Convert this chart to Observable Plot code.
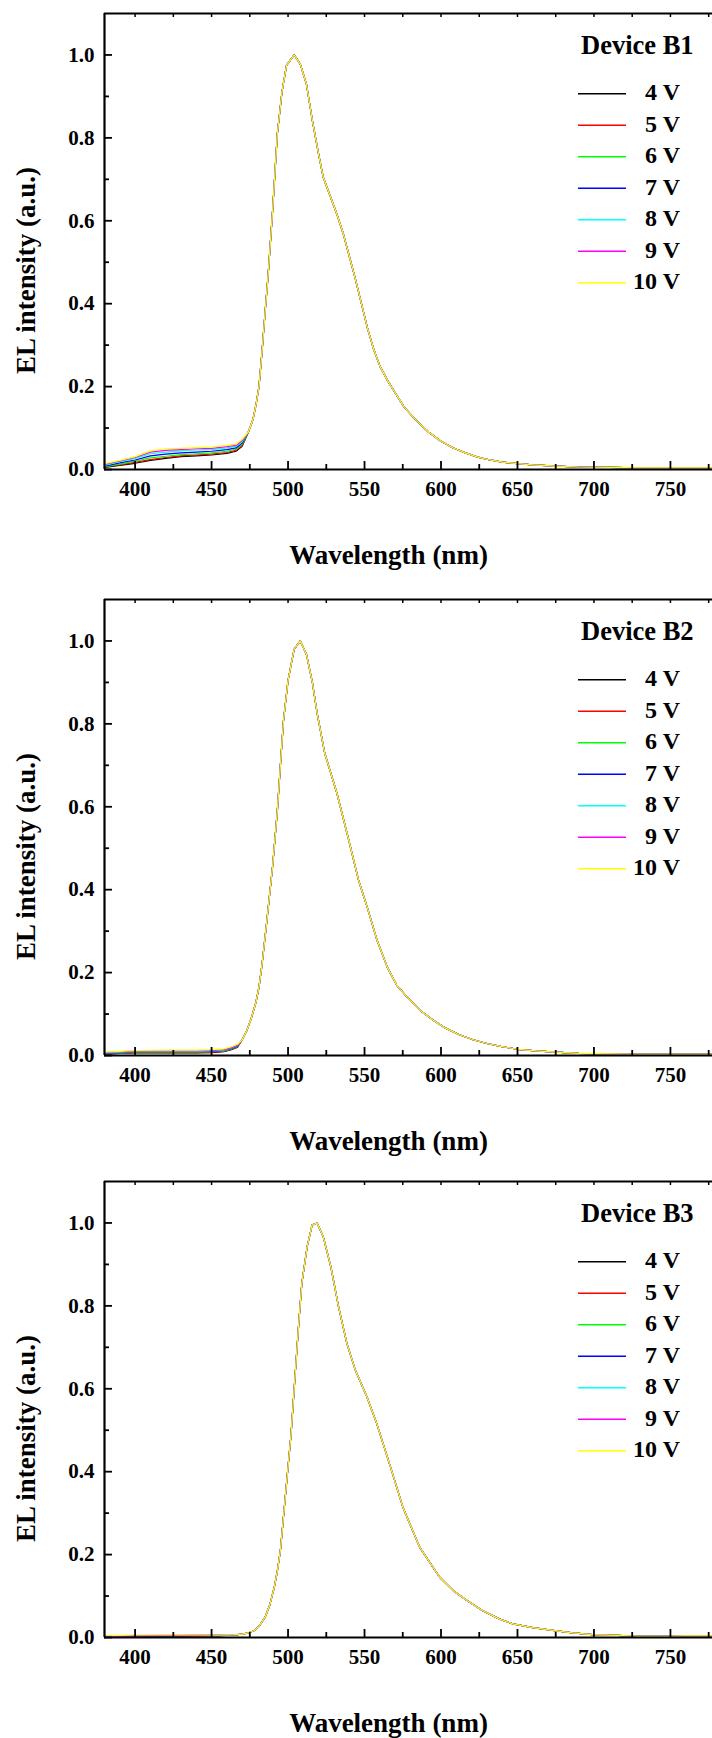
<!DOCTYPE html>
<html>
<head>
<meta charset="utf-8">
<script src="https://cdn.jsdelivr.net/npm/d3@7"></script>
<script src="https://cdn.jsdelivr.net/npm/@observablehq/plot@0.6"></script>
<style>
  html, body { margin: 0; padding: 0; background: #fff; overflow: hidden; }
  #chart svg { display: block; }
</style>
</head>
<body>
<div id="chart"></div>
<script>
// Driving voltages and their trace colours
const voltages = ["4 V", "5 V", "6 V", "7 V", "8 V", "9 V", "10 V"];
const lineColors = ["#000000", "#ff0000", "#00ff00", "#0000ff", "#00ffff", "#ff00ff", "#ffff00"];

// Axis ticks
const xTicks = [400, 450, 500, 550, 600, 650, 700, 750];
const xMinorTicks = [425, 475, 525, 575, 625, 675, 725, 775];
const xTopTicks = [400, 425, 450, 475, 500, 525, 550, 575, 600, 625, 650, 675, 700, 725, 750, 775];
const yTicks = [0.0, 0.2, 0.4, 0.6, 0.8, 1.0];
const yMinorTicks = [0.1, 0.3, 0.5, 0.7, 0.9];

const xTitle = "Wavelength (nm)";
const yTitle = "EL intensity (a.u.)";

// ---- Device B1 ----
// blue side (voltage dependent)
const b1HeadWl = [380, 390, 400, 410, 420, 430, 440, 450, 460, 466, 470];
const b1Head = [
  [0.005, 0.010, 0.015, 0.022, 0.027, 0.031, 0.033, 0.035, 0.039, 0.044, 0.056],
  [0.006, 0.011, 0.017, 0.024, 0.029, 0.033, 0.035, 0.037, 0.041, 0.046, 0.058],
  [0.007, 0.013, 0.020, 0.028, 0.032, 0.036, 0.038, 0.040, 0.044, 0.049, 0.061],
  [0.008, 0.016, 0.023, 0.033, 0.037, 0.040, 0.042, 0.044, 0.048, 0.052, 0.064],
  [0.010, 0.019, 0.027, 0.038, 0.042, 0.045, 0.047, 0.048, 0.052, 0.056, 0.067],
  [0.012, 0.021, 0.029, 0.042, 0.046, 0.048, 0.050, 0.051, 0.055, 0.058, 0.070],
  [0.014, 0.022, 0.031, 0.045, 0.050, 0.051, 0.053, 0.054, 0.058, 0.061, 0.073]
];
// main emission band (common to all voltages)
const b1MainWl = [474, 477, 479, 481, 483, 485, 487, 490, 493, 496, 499, 504, 508, 512, 516, 520, 523, 527, 532, 536, 540, 544, 548, 552, 556, 560, 565, 570, 576, 584, 592, 600, 608, 616, 624, 632, 640, 650, 660, 675, 690, 710, 730, 750, 765, 780];
const b1Main = [0.09, 0.12, 0.155, 0.2, 0.285, 0.38, 0.47, 0.63, 0.81, 0.91, 0.975, 1.0, 0.978, 0.93, 0.84, 0.76, 0.705, 0.665, 0.615, 0.57, 0.515, 0.46, 0.4, 0.34, 0.29, 0.25, 0.215, 0.185, 0.15, 0.118, 0.09, 0.068, 0.052, 0.04, 0.03, 0.023, 0.018, 0.014, 0.011, 0.008, 0.006, 0.005, 0.004, 0.004, 0.004, 0.004];

// ---- Device B2 ----
const b2HeadWl = [380, 390, 400, 420, 440, 450, 458, 463, 467];
const b2Head = [
  [0.003, 0.005, 0.006, 0.006, 0.006, 0.007, 0.009, 0.014, 0.020],
  [0.004, 0.005, 0.007, 0.007, 0.007, 0.008, 0.010, 0.015, 0.021],
  [0.004, 0.006, 0.008, 0.008, 0.008, 0.009, 0.011, 0.016, 0.022],
  [0.005, 0.007, 0.009, 0.009, 0.009, 0.010, 0.012, 0.017, 0.023],
  [0.006, 0.008, 0.010, 0.010, 0.010, 0.011, 0.013, 0.018, 0.024],
  [0.007, 0.009, 0.011, 0.011, 0.011, 0.012, 0.014, 0.019, 0.025],
  [0.008, 0.010, 0.012, 0.013, 0.013, 0.014, 0.016, 0.021, 0.027]
];
const b2MainWl = [470, 473, 476, 479, 481, 483, 486, 490, 493, 495, 497, 500, 504, 508, 512, 516, 519, 524, 532, 540, 546, 552, 558, 565, 571, 578, 586, 595, 603, 612, 621, 630, 639, 650, 662, 675, 690, 710, 730, 750, 780];
const b2Main = [0.038, 0.06, 0.09, 0.128, 0.165, 0.22, 0.32, 0.46, 0.59, 0.7, 0.807, 0.905, 0.98, 1.0, 0.968, 0.898, 0.826, 0.729, 0.632, 0.515, 0.424, 0.355, 0.28, 0.212, 0.17, 0.14, 0.11, 0.085, 0.066, 0.05, 0.038, 0.029, 0.022, 0.015, 0.011, 0.008, 0.005, 0.004, 0.003, 0.003, 0.003];

// ---- Device B3 ----
const b3HeadWl = [380, 400, 420, 440, 455, 465];
const b3Head = [
  [0.003, 0.003, 0.003, 0.004, 0.004, 0.006],
  [0.003, 0.004, 0.004, 0.004, 0.005, 0.006],
  [0.003, 0.004, 0.004, 0.005, 0.005, 0.006],
  [0.003, 0.004, 0.004, 0.005, 0.005, 0.006],
  [0.004, 0.005, 0.005, 0.005, 0.005, 0.006],
  [0.002, 0.004, 0.005, 0.005, 0.006, 0.007],
  [0.004, 0.006, 0.006, 0.006, 0.006, 0.007]
];
const b3MainWl = [470, 474, 478, 481, 485, 488, 491, 493, 495, 498, 502, 505, 507, 509, 512.5, 515.7, 519, 523, 528, 533, 538.5, 544, 551.6, 558, 567, 575, 586, 599, 608, 617, 627, 638, 647, 660, 673, 686, 699, 715, 730, 745, 760, 780];
const b3Main = [0.008, 0.011, 0.017, 0.027, 0.049, 0.078, 0.121, 0.16, 0.21, 0.331, 0.492, 0.653, 0.758, 0.854, 0.943, 0.995, 1.0, 0.967, 0.894, 0.798, 0.709, 0.645, 0.58, 0.516, 0.411, 0.315, 0.218, 0.146, 0.113, 0.089, 0.065, 0.045, 0.033, 0.024, 0.017, 0.011, 0.007, 0.005, 0.003, 0.003, 0.004, 0.004];

const serif = "'Liberation Serif', 'Times New Roman', Times, serif";

// Build long-format rows: each voltage = its own blue side + the common band
function buildRows(headWl, head, mainWl, main) {
  const rows = [];
  voltages.forEach((v, k) => {
    headWl.forEach((w, i) => rows.push({voltage: v, wavelength: w, intensity: head[k][i]}));
    mainWl.forEach((w, i) => rows.push({voltage: v, wavelength: w, intensity: main[i]}));
  });
  return rows;
}

function panel(name, rows, height, marginBottom) {
  const chart = Plot.plot({
    width: 712,
    height,
    marginTop: 13,
    marginLeft: 104,
    marginRight: 0,
    marginBottom,
    style: {fontFamily: serif, fontWeight: "bold", fontSize: "21px", color: "#000", background: "#fff", overflow: "hidden"},
    x: {domain: [380, 777.5]},
    y: {domain: [0, 1.1]},
    color: {domain: voltages, range: lineColors},
    marks: [
      Plot.line(rows, {x: "wavelength", y: "intensity", z: "voltage", stroke: "voltage", strokeWidth: 1.2, clip: true}),
      // inward tick marks
      Plot.axisX({ticks: xMinorTicks, tickSize: -5, tickFormat: () => "", strokeWidth: 1.8, label: null}),
      Plot.axisX({ticks: xTicks, tickSize: -8, tickFormat: () => "", strokeWidth: 1.8, label: null}),
      Plot.axisX({anchor: "top", ticks: xTopTicks, tickSize: -3, tickFormat: () => "", strokeWidth: 1.5, label: null}),
      Plot.axisY({ticks: yMinorTicks, tickSize: -5, tickFormat: () => "", strokeWidth: 1.8, label: null}),
      Plot.axisY({ticks: yTicks, tickSize: -8, tickFormat: () => "", strokeWidth: 1.8, label: null}),
      // tick labels
      Plot.axisX({ticks: xTicks, tickSize: 0, tickPadding: 12, tickFormat: d => String(d), label: null}),
      Plot.axisY({ticks: yTicks, tickSize: 0, tickPadding: 10, tickFormat: d3.format(".1f"), label: null}),
      // frame lines (left, bottom, top)
      Plot.ruleY([0], {strokeWidth: 2.2}),
      Plot.ruleY([1.1], {strokeWidth: 2.2}),
      Plot.ruleX([380], {strokeWidth: 2.2}),
      Plot.text([xTitle], {frameAnchor: "bottom", textAnchor: "middle", dx: -20, dy: 94, lineAnchor: "bottom", fontSize: 27, fontWeight: "bold"}),
      Plot.text([yTitle], {frameAnchor: "left", textAnchor: "middle", rotate: -90, dx: -78, dy: 29, fontSize: 27, fontWeight: "bold"})
    ]
  });

  // Legend block in the upper right of the frame
  const g = d3.select(chart).append("g")
    .attr("font-family", serif)
    .attr("font-weight", "bold")
    .attr("fill", "#000");
  g.append("text").attr("x", 581).attr("y", 13 + 41)
    .attr("text-anchor", "start").attr("font-size", 26.5).text(name);
  voltages.forEach((v, i) => {
    const yl = 13 + 80.7 + 31.5 * i;
    g.append("line")
      .attr("x1", 578).attr("x2", 626).attr("y1", yl).attr("y2", yl)
      .attr("stroke", lineColors[i]).attr("stroke-width", 1.5);
    g.append("text")
      .attr("x", 680).attr("y", 13 + 87 + 31.5 * i)
      .attr("text-anchor", "end").attr("font-size", 24).text(v);
  });
  return chart;
}

const root = document.getElementById("chart");
root.appendChild(panel("Device B1", buildRows(b1HeadWl, b1Head, b1MainWl, b1Main), 586, 117));
root.appendChild(panel("Device B2", buildRows(b2HeadWl, b2Head, b2MainWl, b2Main), 582, 113));
root.appendChild(panel("Device B3", buildRows(b3HeadWl, b3Head, b3MainWl, b3Main), 570, 101));
</script>
</body>
</html>
